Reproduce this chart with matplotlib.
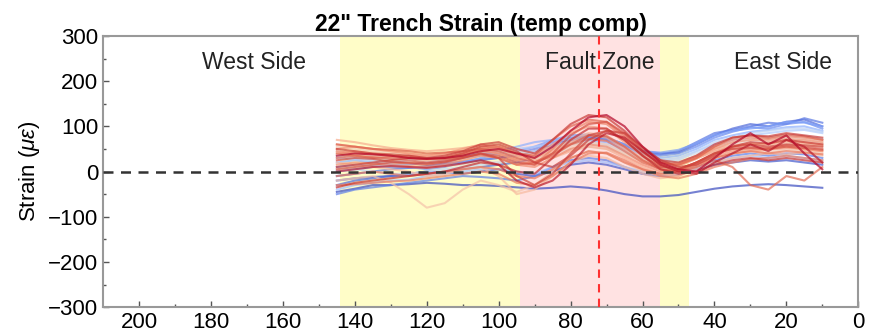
import numpy as np
import matplotlib
matplotlib.use("Agg")
import matplotlib.pyplot as plt

plt.rcParams['font.family'] = ['Liberation Sans', 'DejaVu Sans']
plt.rcParams['mathtext.fontset'] = 'custom'
plt.rcParams['mathtext.rm'] = 'Liberation Sans'
plt.rcParams['mathtext.it'] = 'Liberation Sans:italic'

title = '22" Trench Strain (temp comp)'
ylabel = r'Strain ($\mu\varepsilon$)'
region_labels = ["West Side", "Fault Zone", "East Side"]
region_label_x = [168, 72, 21]
region_label_y = 242
yellow_span = (144, 47)
pink_span = (94, 55)
fault_x = 72

# positions along trench (every 5 units from 145 to 10)
positions = [145, 140, 135, 130, 125, 120, 115, 110, 105, 100, 95, 90, 85, 80,
             75, 70, 65, 60, 55, 50, 45, 40, 35, 30, 25, 20, 15, 10]

# strain readings (colour value in coolwarm, values)
c_b0 = 0.0
b0 = [-45,-38,-30,-30,-28,-25,-27,-30,-30,-32,-35,-38,-36,-33,-36,-42,-50,-55,-55,-52,-45,-38,-33,-30,-28,-30,-33,-36]
c_b1 = 0.03
b1 = [-20,-15,-12,-10,-5,0,-2,-5,0,5,-5,-10,0,15,20,15,5,-5,-10,-8,5,15,20,25,22,25,20,15]
c_b2 = 0.07
b2 = [-30,-20,-15,-10,-8,-5,0,5,10,15,20,30,55,70,80,75,60,45,40,42,60,80,95,105,100,110,115,100]
c_b3 = 0.1
b3 = [-10,-5,0,5,8,10,15,20,25,30,35,45,60,70,75,72,58,42,38,45,65,85,92,100,108,105,118,108]
c_b9 = 0.12
b9 = [-50,-40,-35,-30,-25,-20,-15,-10,-12,-15,-20,-10,10,25,30,25,10,-5,-10,-5,10,25,35,40,35,40,38,30]
c_b4 = 0.15
b4 = [10,15,12,10,8,12,18,22,28,30,40,50,65,75,78,70,55,40,35,40,55,75,88,98,95,105,110,95]
c_b5 = 0.2
b5 = [0,5,10,15,10,5,10,20,30,40,45,55,70,80,82,75,60,45,42,48,62,80,90,95,100,110,108,100]
c_b6 = 0.25
b6 = [20,25,20,15,15,20,25,30,35,45,55,65,70,72,70,65,50,38,30,35,50,70,80,88,92,98,100,90]
c_b7 = 0.3
b7 = [-40,-30,-25,-20,-18,-10,-5,0,5,5,0,-5,10,20,25,20,10,0,-5,0,10,20,30,35,30,35,30,25]
c_b8 = 0.35
b8 = [30,28,25,20,25,30,32,35,40,45,50,55,60,65,68,60,45,30,25,30,45,60,70,80,85,90,92,85]
c_g2 = 0.4
g2 = [0,5,0,-5,-5,0,5,10,15,20,25,35,50,60,62,55,40,25,20,25,45,65,75,85,90,95,95,88]
c_g0 = 0.45
g0 = [35,32,30,28,25,22,25,30,35,38,40,45,55,62,65,60,45,30,25,28,40,55,65,72,75,80,78,72]
c_g1 = 0.52
g1 = [5,10,15,12,10,8,12,15,20,22,25,30,40,50,55,50,38,25,18,20,35,50,58,62,65,70,68,62]
c_g3 = 0.55
g3 = [45,40,35,30,32,35,38,42,48,50,45,40,50,60,62,55,40,25,15,18,35,55,62,68,72,75,72,65]
c_r0 = 0.6
r0 = [55,50,45,42,38,35,40,45,50,45,30,25,40,55,65,60,40,20,10,12,30,45,55,60,58,62,60,55]
c_r1 = 0.63
r1 = [-20,-15,-10,-25,-50,-80,-70,-40,-20,-30,-45,-30,0,30,45,40,20,0,-10,-5,15,30,40,45,42,48,45,40]
c_r2 = 0.66
r2 = [20,15,10,5,0,-10,-5,5,10,-10,-50,-40,-10,20,35,30,10,-5,-15,-10,5,20,30,35,40,38,42,35]
c_r3 = 0.69
r3 = [60,55,50,45,40,35,38,42,48,40,25,30,50,70,85,80,55,30,15,18,35,50,58,62,60,65,62,58]
c_r18 = 0.7
r18 = [70,65,58,52,48,45,48,52,58,52,35,25,30,45,55,50,30,10,-5,-10,10,30,40,45,50,55,48,45]
c_r4 = 0.72
r4 = [40,45,40,35,30,25,30,40,55,50,35,30,45,65,80,75,50,25,10,12,28,45,55,60,62,68,65,60]
c_r5 = 0.75
r5 = [50,55,50,45,40,35,40,50,60,55,40,35,60,85,100,95,65,35,15,15,30,50,65,70,68,72,70,65]
c_r6 = 0.78
r6 = [15,20,18,15,12,10,15,25,35,30,15,10,30,50,60,55,35,15,0,5,20,35,45,50,48,52,50,45]
c_r7 = 0.8
r7 = [45,40,38,35,30,28,32,38,45,40,25,15,50,90,110,105,75,40,20,15,30,55,70,75,72,78,75,70]
c_r19 = 0.82
r19 = [-30,-28,-25,-22,-20,-15,-10,-5,0,-5,-25,-30,-10,20,40,42,25,5,-10,-15,-5,10,20,28,30,35,30,25]
c_r8 = 0.83
r8 = [-10,-5,0,-5,-10,-5,0,5,10,5,-10,-15,5,30,45,40,20,5,-5,0,15,30,40,45,40,45,42,38]
c_r17 = 0.85
r17 = [40,35,30,32,35,30,28,32,38,30,15,20,40,60,72,68,45,20,5,0,10,25,10,-30,-40,-10,-20,10]
c_r9 = 0.86
r9 = [30,35,32,28,25,20,25,35,50,55,40,35,70,100,115,110,80,45,20,15,30,55,75,80,75,82,78,70]
c_r10 = 0.88
r10 = [60,55,50,48,45,40,42,45,50,45,30,20,35,60,80,78,55,25,5,0,20,40,50,55,52,58,55,50]
c_r11 = 0.9
r11 = [5,10,15,20,18,15,20,30,40,35,20,15,40,80,105,110,85,45,15,5,20,40,50,52,50,55,52,48]
c_r12 = 0.92
r12 = [25,30,28,22,20,18,22,30,40,30,-10,-30,-5,40,80,90,70,35,10,5,20,40,55,60,55,60,58,55]
c_r20 = 0.93
r20 = [10,15,20,25,30,28,30,40,55,60,45,20,10,35,70,90,85,55,25,10,15,35,55,65,62,70,65,60]
c_r13 = 0.94
r13 = [50,45,40,38,35,30,35,45,60,65,50,40,70,105,125,120,90,50,25,20,35,60,75,80,78,85,80,75]
c_r14 = 0.96
r14 = [-35,-25,-20,-15,-10,-5,0,10,20,15,0,-5,30,70,95,95,70,35,5,-5,0,15,25,30,25,30,25,20]
c_r15 = 0.98
r15 = [0,5,10,12,10,8,12,18,25,15,-20,-35,-20,15,60,85,75,45,15,0,-5,20,40,60,45,70,55,20]
c_r16 = 1.0
r16 = [35,40,38,35,30,28,30,35,45,50,40,30,55,90,120,125,100,55,20,5,0,30,60,85,60,80,40,5]

series = [(c_b0, b0), (c_b1, b1), (c_b2, b2), (c_b3, b3), (c_b9, b9), (c_b4, b4),
          (c_b5, b5), (c_b6, b6), (c_b7, b7), (c_b8, b8), (c_g2, g2), (c_g0, g0),
          (c_g1, g1), (c_g3, g3),
          (c_r0, r0), (c_r1, r1), (c_r2, r2), (c_r3, r3), (c_r18, r18), (c_r4, r4),
          (c_r5, r5), (c_r6, r6), (c_r7, r7), (c_r19, r19), (c_r8, r8), (c_r17, r17),
          (c_r9, r9), (c_r10, r10), (c_r11, r11), (c_r12, r12), (c_r20, r20),
          (c_r13, r13), (c_r14, r14), (c_r15, r15), (c_r16, r16)]

fig = plt.figure(figsize=(8.74, 3.36), dpi=100)
ax = fig.add_axes([0.118, 0.086, 0.864, 0.807])

ax.axvspan(*yellow_span, color='#fffdc8', zorder=0, lw=0)
ax.axvspan(*pink_span, color='#ffe2e2', zorder=0.5, lw=0)

cmap = matplotlib.colormaps['coolwarm']
for c, vals in series:
    ax.plot(positions, vals, color=cmap(c), lw=1.5, alpha=0.7, zorder=2,
            solid_joinstyle='round')

ax.axhline(0, color='#333333', ls=(0, (4, 3)), lw=1.8, zorder=3)
ax.axvline(fault_x, color='#ff3030', ls=(0, (4, 3)), lw=1.5, zorder=3)

for lbl, lx in zip(region_labels, region_label_x):
    ax.text(lx, region_label_y, lbl, ha='center', va='center', fontsize=16.5,
            color='#222222', zorder=4)

ax.set_xlim(210, 0)
ax.set_ylim(-300, 300)
ax.set_xticks([200, 180, 160, 140, 120, 100, 80, 60, 40, 20, 0])
ax.set_yticks([-300, -200, -100, 0, 100, 200, 300])
ax.set_xticks(np.arange(10, 210, 20), minor=True)
ax.set_yticks(np.arange(-250, 300, 100), minor=True)
ax.tick_params(which='both', direction='in', colors='#555555', labelcolor='black',
               labelsize=16)
ax.tick_params(which='major', length=4, width=1)
ax.tick_params(which='minor', length=2, width=1)
for s in ax.spines.values():
    s.set_color('#999999')
    s.set_linewidth(1.5)
ax.set_ylabel(ylabel, fontsize=16, labelpad=4)
ax.set_title(title, fontsize=16.5, fontweight='bold', pad=3)

fig.savefig('out.png', dpi=100)
